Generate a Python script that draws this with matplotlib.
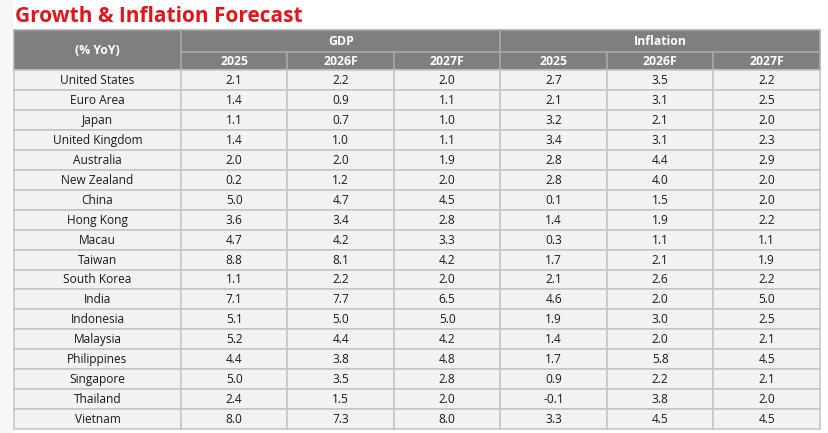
import matplotlib.pyplot as plt
from matplotlib.patches import Rectangle

# table data
countries = ["United States", "Euro Area", "Japan", "United Kingdom", "Australia",
             "New Zealand", "China", "Hong Kong", "Macau", "Taiwan", "South Korea",
             "India", "Indonesia", "Malaysia", "Philippines", "Singapore", "Thailand", "Vietnam"]
years = ["2025", "2026F", "2027F"]
gdp = [
    [2.1, 2.2, 2.0], [1.4, 0.9, 1.1], [1.1, 0.7, 1.0], [1.4, 1.0, 1.1],
    [2.0, 2.0, 1.9], [0.2, 1.2, 2.0], [5.0, 4.7, 4.5], [3.6, 3.4, 2.8],
    [4.7, 4.2, 3.3], [8.8, 8.1, 4.2], [1.1, 2.2, 2.0], [7.1, 7.7, 6.5],
    [5.1, 5.0, 5.0], [5.2, 4.4, 4.2], [4.4, 3.8, 4.8], [5.0, 3.5, 2.8],
    [2.4, 1.5, 2.0], [8.0, 7.3, 8.0],
]
inflation = [
    [2.7, 3.5, 2.2], [2.1, 3.1, 2.5], [3.2, 2.1, 2.0], [3.4, 3.1, 2.3],
    [2.8, 4.4, 2.9], [2.8, 4.0, 2.0], [0.1, 1.5, 2.0], [1.4, 1.9, 2.2],
    [0.3, 1.1, 1.1], [1.7, 2.1, 1.9], [2.1, 2.6, 2.2], [4.6, 2.0, 5.0],
    [1.9, 3.0, 2.5], [1.4, 2.0, 2.1], [1.7, 5.8, 4.5], [0.9, 2.2, 2.1],
    [-0.1, 3.8, 2.0], [3.3, 4.5, 4.5],
]

W, H = 829, 433
fig = plt.figure(figsize=(W / 100, H / 100), dpi=100)
ax = fig.add_axes([0, 0, 1, 1])
ax.set_xlim(0, W)
ax.set_ylim(H, 0)
ax.axis("off")

font = "Open Sans"
header_bg = "#7f7f7f"
body_bg = "#f2f2f2"
line_c = "#c4c4c4"

# layout (pixels)
x0, x1 = 14, 820
first_w = 167
col_w = (x1 - x0 - first_w) / 6
xs = [x0, x0 + first_w] + [x0 + first_w + col_w * (i + 1) for i in range(6)]
top = 30
h1, h2 = 22, 18
row_h = 19.95
body_top = top + h1 + h2

ax.add_patch(Rectangle((0, 0), x0 - 1, H, color="#f7f7f7", lw=0))

ax.text(x0 + 1, 16, "Growth & Inflation Forecast", color="#e0161e", fontsize=15,
        fontweight="bold", family=font, va="center", ha="left")


def cell(x, y, w, h, txt, bg, fc, lc, bold=False, size=8.6):
    ax.add_patch(Rectangle((x, y), w, h, facecolor=bg, edgecolor=lc, lw=1.1))
    ax.text(x + w / 2, y + h / 2 + 0.5, txt, ha="center", va="center", color=fc,
            fontsize=size, family=font, fontweight="bold" if bold else "normal")


# header
hl = "#a8a8a8"
cell(xs[0], top, xs[1] - xs[0], h1 + h2, "(% YoY)", header_bg, "white", hl, True, 8.8)
cell(xs[1], top, xs[4] - xs[1], h1, "GDP", header_bg, "white", hl, True, 8.8)
cell(xs[4], top, xs[7] - xs[4], h1, "Inflation", header_bg, "white", hl, True, 8.8)
for i in range(6):
    cell(xs[i + 1], top + h1, xs[i + 2] - xs[i + 1], h2, years[i % 3], header_bg, "white", hl, True, 8.8)

# body
for r, name in enumerate(countries):
    y = body_top + r * row_h
    cell(xs[0], y, xs[1] - xs[0], row_h, name, body_bg, "#1a1a1a", line_c)
    vals = gdp[r] + inflation[r]
    for i, v in enumerate(vals):
        cell(xs[i + 1], y, xs[i + 2] - xs[i + 1], row_h, f"{v:.1f}", body_bg, "#1a1a1a", line_c)

fig.savefig("out.png", dpi=100)
